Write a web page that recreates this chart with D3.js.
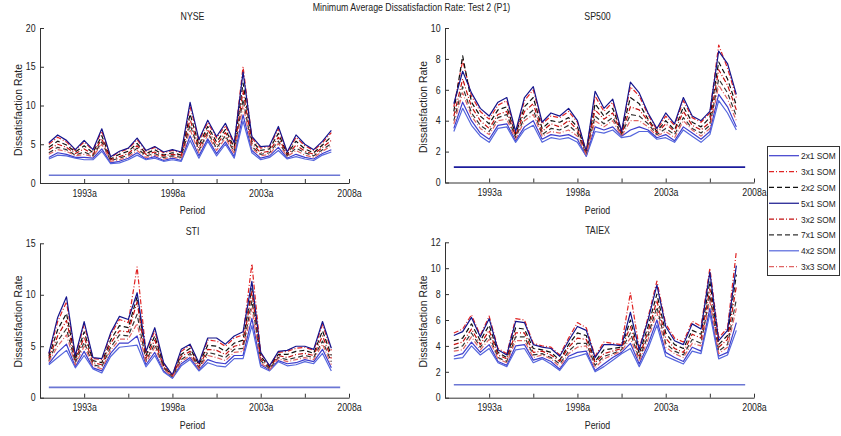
<!DOCTYPE html>
<html>
<head>
<meta charset="utf-8">
<script src="https://cdn.jsdelivr.net/npm/d3@7"></script>
<style>
body { margin: 0; background: #fff; }
text { font-family: Arial, "Liberation Sans", Helvetica, sans-serif; fill: #222; }
</style>
</head>
<body>
<svg id="chart" width="841" height="436"></svg>
<script>
// half-year periods, 1991a .. 2007a (index 1..33)
const periods = ['1991a','1991b','1992a','1992b','1993a','1993b','1994a','1994b','1995a','1995b',
  '1996a','1996b','1997a','1997b','1998a','1998b','1999a','1999b','2000a','2000b',
  '2001a','2001b','2002a','2002b','2003a','2003b','2004a','2004b','2005a','2005b',
  '2006a','2006b','2007a'];
// reference line at 1, runs one period longer
const benchmark = [1,1,1,1,1,1,1,1,1,1,1,1,1,1,1,1,1,1,1,1,1,1,1,1,1,1,1,1,1,1,1,1,1,1];

const seriesNames = ['2x1 SOM','3x1 SOM','2x2 SOM','5x1 SOM','3x2 SOM','7x1 SOM','4x2 SOM','3x3 SOM'];
const tickVals = [5,10,15,20,25,30,35];
const tickLabels = ['1993a','','1998a','','2003a','','2008a'];

// NYSE
const nyse2x1 = [3.3,3.9,3.7,3.3,3.3,3.2,4.4,2.6,2.8,3.2,3.9,3.1,3.4,2.9,3.2,2.9,6.1,3.5,5.7,3.8,5.3,3.4,8.8,4.2,3.2,3.5,4.6,3.2,3.7,3.3,3.1,3.8,4.3];
const nyse3x1 = [5.0,5.9,5.3,4.2,5.3,4.2,6.7,3.3,4.0,4.4,5.6,4.1,4.6,3.9,4.2,3.9,9.9,5.4,7.8,5.8,7.4,5.0,15.0,5.8,4.5,4.7,7.0,3.9,5.9,4.8,4.2,5.2,6.5];
const nyse2x2 = [4.6,5.4,4.9,4.0,4.8,3.9,6.1,3.1,3.7,4.1,5.1,3.8,4.3,3.6,3.9,3.6,8.9,4.9,7.3,5.3,6.9,4.6,12.9,5.4,4.2,4.4,6.4,3.7,5.4,4.4,3.9,4.9,6.0];
const nyse5x1 = [5.2,6.2,5.5,4.3,5.5,4.3,7.0,3.4,4.1,4.5,5.8,4.2,4.7,4.0,4.3,4.0,10.4,5.6,8.1,6.0,7.7,5.2,14.3,6.0,4.7,4.8,7.3,4.0,6.2,5.0,4.3,5.4,6.8];
const nyse3x2 = [4.3,5.0,4.6,3.8,4.4,3.7,5.7,3.0,3.4,3.8,4.8,3.7,4.0,3.5,3.7,3.5,8.2,4.5,6.9,4.9,6.5,4.3,11.9,5.1,3.9,4.1,5.9,3.6,4.9,4.1,3.7,4.6,5.5];
const nyse7x1 = [3.9,4.6,4.3,3.6,4.0,3.5,5.3,2.9,3.2,3.6,4.5,3.5,3.8,3.3,3.5,3.3,7.5,4.2,6.5,4.5,6.1,4.0,10.8,4.7,3.7,3.9,5.4,3.5,4.5,3.9,3.5,4.3,5.1];
const nyse4x2 = [3.1,3.6,3.5,3.2,3.0,3.0,4.1,2.5,2.6,3.0,3.6,3.0,3.2,2.8,3.0,2.8,5.5,3.2,5.4,3.5,5.0,3.2,8.0,3.9,3.0,3.3,4.2,3.1,3.4,3.1,2.9,3.6,4.0];
const nyse3x3 = [3.7,4.3,4.1,3.5,3.7,3.4,5.0,2.8,3.0,3.4,4.2,3.3,3.6,3.1,3.4,3.1,6.9,3.9,6.2,4.2,5.8,3.8,10.0,4.5,3.5,3.7,5.1,3.4,4.2,3.6,3.3,4.1,4.8];

// SP500
const sp2x1 = [3.5,5.2,4.0,3.2,2.8,3.7,3.8,2.7,3.6,4.0,2.8,3.1,3.0,3.1,2.8,1.7,3.6,3.4,3.6,3.0,3.4,3.6,3.4,2.9,3.1,2.7,3.6,3.2,2.8,3.3,5.7,4.9,3.6];
const sp3x1 = [4.9,7.9,5.6,4.6,4.1,5.0,5.3,3.2,5.3,6.0,3.8,4.3,4.2,4.6,3.9,2.0,5.6,4.6,5.2,3.3,6.2,5.6,4.4,3.4,4.3,3.7,5.3,4.2,3.9,4.5,8.9,7.4,5.5];
const sp2x2 = [4.6,8.2,5.2,4.3,3.8,4.7,4.9,3.1,4.9,5.5,3.5,4.0,3.9,4.2,3.6,1.9,5.1,4.3,4.8,3.2,5.5,5.1,4.1,3.3,4.0,3.4,4.9,3.9,3.6,4.2,7.8,6.7,5.0];
const sp5x1 = [5.1,7.2,5.8,4.8,4.3,5.2,5.5,3.3,5.5,6.2,3.9,4.5,4.3,4.8,4.0,2.0,5.9,4.8,5.4,3.3,6.5,5.8,4.5,3.5,4.5,3.8,5.5,4.3,4.0,4.6,8.5,7.7,5.7];
const sp3x2 = [4.3,6.7,4.9,4.0,3.5,4.4,4.6,3.0,4.6,5.1,3.3,3.8,3.6,4.0,3.4,1.9,4.7,4.1,4.5,3.1,4.9,4.7,4.0,3.2,3.8,3.3,4.6,3.7,3.4,3.9,7.3,6.3,4.7];
const sp7x1 = [4.0,6.2,4.5,3.7,3.3,4.2,4.4,2.9,4.2,4.7,3.1,3.5,3.4,3.7,3.2,1.8,4.3,3.8,4.2,3.1,4.4,4.3,3.8,3.1,3.5,3.1,4.2,3.5,3.2,3.7,6.7,5.8,4.3];
const sp4x2 = [3.3,4.8,3.7,3.0,2.6,3.5,3.6,2.6,3.4,3.7,2.6,2.9,2.8,2.9,2.6,1.7,3.3,3.2,3.4,2.9,3.0,3.3,3.3,2.8,2.9,2.6,3.4,3.0,2.6,3.1,5.3,4.5,3.4];
const sp3x3 = [3.8,5.8,4.3,3.5,3.1,4.0,4.1,2.8,4.0,4.4,3.0,3.3,3.2,3.4,3.0,1.8,4.0,3.6,4.0,3.0,4.0,4.0,3.6,3.0,3.3,2.9,4.0,3.4,3.0,3.5,6.3,5.4,4.0];

// STI
const sti2x1 = [3.3,4.4,5.2,3.0,4.5,2.9,2.6,4.3,5.3,5.3,6.0,3.2,4.4,2.6,1.9,3.3,3.9,2.7,3.7,3.4,3.3,4.1,4.1,7.7,3.2,2.7,3.6,3.3,3.4,3.7,3.5,4.7,2.9];
const sti3x1 = [4.2,7.4,9.3,4.0,7.1,3.8,3.7,6.1,7.6,7.3,12.7,4.4,6.5,3.3,2.2,4.5,5.1,3.3,5.6,5.5,5.0,5.8,6.1,13.0,4.3,3.1,4.4,4.5,4.8,4.9,4.6,7.1,4.6];
const sti2x2 = [4.0,6.6,8.2,3.7,6.4,3.6,3.4,5.6,7.0,6.8,9.8,4.1,6.0,3.1,2.1,4.2,4.8,3.2,5.1,5.0,4.5,5.3,5.6,10.6,4.0,3.0,4.2,4.2,4.5,4.6,4.3,6.5,4.1];
const sti5x1 = [4.3,7.8,9.8,4.1,7.4,3.9,3.8,6.3,7.9,7.6,10.2,4.5,6.8,3.4,2.2,4.7,5.2,3.4,5.8,5.8,5.2,6.0,6.4,11.3,4.4,3.1,4.5,4.6,5.0,5.0,4.7,7.4,4.8];
const sti3x2 = [3.8,6.0,7.5,3.6,5.9,3.4,3.2,5.3,6.5,6.4,9.3,3.8,5.6,3.0,2.1,4.0,4.5,3.0,4.7,4.6,4.2,5.0,5.2,10.3,3.8,2.9,4.1,3.9,4.2,4.3,4.1,6.0,3.8];
const sti7x1 = [3.6,5.5,6.7,3.4,5.4,3.2,3.0,4.9,6.1,6.0,8.1,3.6,5.2,2.9,2.0,3.7,4.3,2.9,4.4,4.2,3.9,4.7,4.8,9.4,3.6,2.8,3.9,3.7,3.9,4.1,3.9,5.5,3.5];
const sti4x2 = [3.2,3.9,4.6,2.9,4.1,2.8,2.4,4.0,4.9,5.0,5.1,3.0,4.1,2.5,1.9,3.1,3.7,2.6,3.4,3.1,3.0,3.8,3.8,7.0,3.0,2.6,3.5,3.1,3.2,3.5,3.3,4.3,2.6];
const sti3x3 = [3.5,5.0,6.1,3.2,5.0,3.1,2.8,4.6,5.7,5.7,7.2,3.4,4.9,2.8,2.0,3.5,4.1,2.8,4.1,3.9,3.6,4.4,4.5,8.7,3.4,2.7,3.8,3.5,3.7,3.9,3.7,5.2,3.2];

// TAIEX
const tx2x1 = [3.2,3.4,4.3,3.5,4.1,2.8,2.5,4.0,4.1,2.9,3.1,2.8,2.2,3.2,3.5,3.6,2.1,2.6,3.1,3.5,4.2,2.6,4.1,6.0,3.5,3.1,2.8,3.9,3.6,6.9,3.2,3.5,5.8];
const tx3x1 = [5.0,5.3,6.4,4.8,6.3,3.8,3.4,6.1,6.0,4.2,4.0,3.9,3.3,4.6,5.8,5.4,3.2,4.3,4.2,4.1,8.1,3.8,6.2,9.0,5.7,4.6,4.3,5.9,5.5,10.0,4.6,5.4,11.3];
const tx2x2 = [4.4,4.6,5.7,4.4,5.6,3.5,3.1,5.4,5.3,3.8,3.7,3.5,2.9,4.1,5.0,4.8,2.8,3.7,3.8,3.9,6.0,3.4,5.5,8.0,5.0,4.1,3.8,5.2,4.9,9.0,4.1,4.8,9.5];
const tx5x1 = [4.8,5.1,6.2,4.7,6.1,3.7,3.3,5.9,5.8,4.1,3.9,3.8,3.2,4.4,5.5,5.2,3.1,4.1,4.1,4.0,6.6,3.7,6.0,8.7,5.5,4.4,4.1,5.7,5.3,9.7,4.4,5.2,10.2];
const tx3x2 = [4.1,4.3,5.3,4.1,5.2,3.3,3.0,5.0,5.0,3.5,3.6,3.3,2.8,3.9,4.6,4.5,2.7,3.4,3.6,3.8,5.5,3.2,5.1,7.5,4.6,3.8,3.5,4.9,4.6,8.4,3.9,4.5,8.6];
const tx7x1 = [3.8,4.0,5.0,3.9,4.8,3.1,2.8,4.7,4.7,3.3,3.4,3.1,2.6,3.6,4.2,4.2,2.5,3.2,3.4,3.7,5.0,3.0,4.8,7.0,4.2,3.6,3.3,4.5,4.2,7.9,3.6,4.1,7.6];
const tx4x2 = [3.0,3.1,4.0,3.3,3.8,2.7,2.4,3.7,3.8,2.7,3.0,2.6,2.1,3.0,3.2,3.4,2.0,2.4,2.9,3.4,3.8,2.4,3.8,5.6,3.2,2.9,2.6,3.6,3.4,6.5,3.0,3.3,5.2];
const tx3x3 = [3.6,3.7,4.7,3.7,4.5,3.0,2.7,4.4,4.4,3.1,3.3,3.0,2.4,3.4,3.9,4.0,2.3,3.0,3.3,3.6,4.6,2.8,4.5,6.6,3.9,3.4,3.1,4.2,4.0,7.5,3.4,3.9,6.9];

const seriesColors = ['#3d3dcc', '#e02424', '#111111', '#14148c', '#c41010', '#333333', '#5566dd', '#e06464'];
const seriesDash = ['none', '5,2,1,2', '5,3', 'none', '5,2,1,2', '5,3', 'none', '5,2,1,2'];

const panels = [
  { title: 'NYSE', data: [nyse2x1, nyse3x1, nyse2x2, nyse5x1, nyse3x2, nyse7x1, nyse4x2, nyse3x3],
    yTicks: [0,5,10,15,20], x0: 40, x1: 349, y0: 28, y1: 183, bench: '#6b76d4', ylab: 110 },
  { title: 'SP500', data: [sp2x1, sp3x1, sp2x2, sp5x1, sp3x2, sp7x1, sp4x2, sp3x3],
    yTicks: [0,2,4,6,8,10], x0: 445, x1: 754, y0: 28, y1: 182.5, bench: '#1c1c9c', ylab: 107 },
  { title: 'STI', data: [sti2x1, sti3x1, sti2x2, sti5x1, sti3x2, sti7x1, sti4x2, sti3x3],
    yTicks: [0,5,10,15], x0: 40, x1: 349, y0: 243.3, y1: 397.7, bench: '#6b76d4', ylab: 321.5 },
  { title: 'TAIEX', data: [tx2x1, tx3x1, tx2x2, tx5x1, tx3x2, tx7x1, tx4x2, tx3x3],
    yTicks: [0,2,4,6,8,10,12], x0: 445, x1: 754, y0: 242.3, y1: 397.7, bench: '#6b76d4', ylab: 321.5 }
];

const svg = d3.select('#chart');
svg.append('rect').attr('width', 841).attr('height', 436).attr('fill', '#fff');

const SX = 0.88; // the original figure is squeezed horizontally

function label(x, y, str, size) {
  return svg.append('text')
    .attr('transform', `translate(${x},${y}) scale(${SX},1)`)
    .attr('text-anchor', 'middle')
    .style('font-size', size + 'px')
    .text(str);
}

label(411.5, 10.5, 'Minimum Average Dissatisfaction Rate: Test 2 (P1)', 10);

panels.forEach(p => {
  const x = d3.scaleLinear().domain([0, 35]).range([p.x0, p.x1]);
  const y = d3.scaleLinear().domain([0, d3.max(p.yTicks)]).range([p.y1, p.y0]);
  const cx = (p.x0 + p.x1) / 2 - 2;

  const line = d3.line().x((d, i) => x(i + 1)).y(d => y(d));

  svg.append('path').datum(benchmark)
    .attr('d', line).attr('fill', 'none')
    .attr('stroke', p.bench).attr('stroke-width', 1.7);

  p.data.forEach((s, k) => {
    svg.append('path').datum(s)
      .attr('d', line)
      .attr('fill', 'none')
      .attr('stroke', seriesColors[k])
      .attr('stroke-width', 1.2)
      .attr('stroke-dasharray', seriesDash[k])
      .attr('stroke-linejoin', 'round');
  });

  const gx = svg.append('g').attr('transform', `translate(0,${p.y1})`)
    .call(d3.axisBottom(x).tickValues(tickVals).tickFormat((d, i) => tickLabels[i])
      .tickSizeInner(-4).tickSizeOuter(0).tickPadding(6.5));
  const gy = svg.append('g').attr('transform', `translate(${p.x0},0)`)
    .call(d3.axisLeft(y).tickValues(p.yTicks).tickSizeInner(-4).tickSizeOuter(0).tickPadding(5));

  [gx, gy].forEach(g => {
    g.attr('font-family', null).attr('font-size', null);
    g.select('.domain').attr('stroke', '#333');
    g.selectAll('.tick line').attr('stroke', '#333');
    g.selectAll('.tick text').style('font-size', '10px').attr('fill', '#222')
      .attr('transform', `scale(${SX},1)`);
  });

  label(cx, p.y0 - 8, p.title, 10);
  label(cx, p.y1 + 31, 'Period', 10);

  svg.append('text')
    .attr('transform', `translate(${p.x0 - 18.5},${p.ylab}) rotate(-90)`)
    .attr('text-anchor', 'middle')
    .style('font-size', '10.4px')
    .text('Dissatisfaction Rate');
});

// legend
const lg = svg.append('g');
lg.append('rect').attr('x', 767.5).attr('y', 146.5).attr('width', 72).attr('height', 129)
  .attr('fill', '#fff').attr('stroke', '#333').attr('stroke-width', 1);
seriesNames.forEach((n, k) => {
  const ly = 155.7 + k * 15.85;
  lg.append('line').attr('x1', 769).attr('x2', 799).attr('y1', ly).attr('y2', ly)
    .attr('stroke', seriesColors[k]).attr('stroke-width', 1.2)
    .attr('stroke-dasharray', seriesDash[k]);
  lg.append('text')
    .attr('transform', `translate(801,${ly + 3.4}) scale(${SX},1)`)
    .style('font-size', '9.5px')
    .text(n);
});
</script>
</body>
</html>
